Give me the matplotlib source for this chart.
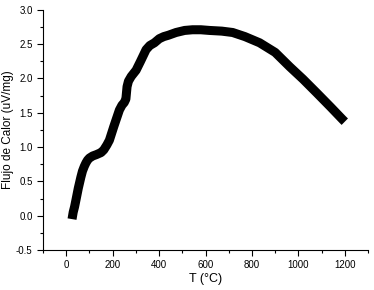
import matplotlib
matplotlib.use("Agg")
import matplotlib.pyplot as plt
from matplotlib.ticker import MultipleLocator

plt.rcParams["font.family"] = ["Liberation Sans", "DejaVu Sans"]

# DSC curve
temp = [25, 30, 36, 42, 52, 63, 70, 78, 85, 92, 100, 114, 130, 150, 162,
        175, 186, 205, 229, 240, 250, 257, 262, 268, 280, 301, 320, 344,
        360, 380, 401, 420, 440, 473, 510, 544, 580, 617, 670, 717, 770,
        833, 900, 963, 1020, 1079, 1140, 1191, 1200]
flow = [-0.05, 0.05, 0.13, 0.23, 0.40, 0.56, 0.65, 0.72, 0.77, 0.81, 0.84,
        0.87, 0.89, 0.92, 0.96, 1.03, 1.10, 1.30, 1.54, 1.61, 1.65, 1.70,
        1.88, 1.96, 2.03, 2.12, 2.25, 2.42, 2.48, 2.52, 2.58, 2.61, 2.63,
        2.67, 2.70, 2.71, 2.71, 2.70, 2.69, 2.67, 2.61, 2.52, 2.38, 2.17,
        1.99, 1.79, 1.58, 1.40, 1.37]

fig = plt.figure(figsize=(3.74, 2.9), dpi=100)
ax = fig.add_axes([0.115, 0.138, 0.869, 0.828])

ax.plot(temp, flow, color="black", linewidth=6.5, solid_capstyle="butt",
        solid_joinstyle="round")

ax.set_xlim(-100, 1300)
ax.set_ylim(-0.5, 3.0)
ax.xaxis.set_major_locator(MultipleLocator(200))
ax.xaxis.set_minor_locator(MultipleLocator(100))
ax.yaxis.set_major_locator(MultipleLocator(0.5))
ax.yaxis.set_minor_locator(MultipleLocator(0.25))
ax.yaxis.set_major_formatter(plt.FormatStrFormatter("%.1f"))

ax.spines[["top", "right"]].set_visible(False)
ax.tick_params(which="major", direction="out", length=4, width=0.8, labelsize=7)
ax.tick_params(which="minor", direction="out", length=2, width=0.8)

ax.set_xlabel("T (°C)", fontsize=9, labelpad=2)
ax.set_ylabel("Flujo de Calor (uV/mg)", fontsize=8.5)
ax.yaxis.set_label_coords(-0.09, 0.5)

plt.savefig("out.png", dpi=100)
plt.close(fig)
